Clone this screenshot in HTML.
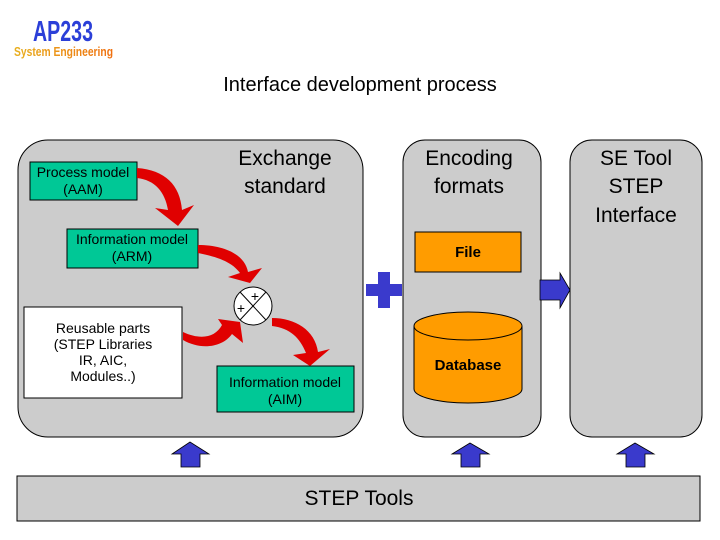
<!DOCTYPE html>
<html><head><style>
body{margin:0;background:#fff;}
svg{display:block;font-family:"Liberation Sans",sans-serif;}
</style></head><body>
<svg width="720" height="540" viewBox="0 0 720 540" xmlns="http://www.w3.org/2000/svg">
<defs>
<linearGradient id="lg" x1="0" y1="0" x2="1" y2="0"><stop offset="0" stop-color="#e8b020"/><stop offset="1" stop-color="#f07010"/></linearGradient>
</defs>
<text x="33" y="41" font-size="29" font-weight="bold" fill="#2b3fd8" textLength="60" lengthAdjust="spacingAndGlyphs">AP233</text>
<text x="14" y="56" font-size="13" font-weight="bold" fill="url(#lg)" textLength="99" lengthAdjust="spacingAndGlyphs">System Engineering</text>
<text x="360" y="91" font-size="20" text-anchor="middle">Interface development process</text>
<rect x="18" y="140" width="345" height="297" rx="30" fill="#cccccc" stroke="#000"/>
<rect x="403" y="140" width="138" height="297" rx="22" fill="#cccccc" stroke="#000"/>
<rect x="570" y="140" width="132" height="297" rx="22" fill="#cccccc" stroke="#000"/>
<rect x="17" y="476" width="683" height="45" fill="#cccccc" stroke="#000"/>
<text x="359" y="505" font-size="21" text-anchor="middle">STEP Tools</text>
<text x="285" y="165" font-size="21" text-anchor="middle">Exchange</text>
<text x="285" y="193" font-size="21" text-anchor="middle">standard</text>
<text x="469" y="165" font-size="21" text-anchor="middle">Encoding</text>
<text x="469" y="193" font-size="21" text-anchor="middle">formats</text>
<text x="636" y="165" font-size="21" text-anchor="middle">SE Tool</text>
<text x="636" y="193" font-size="21" text-anchor="middle">STEP</text>
<text x="636" y="222" font-size="21" text-anchor="middle">Interface</text>
<rect x="30" y="162" width="107" height="38" fill="#00c896" stroke="#000"/>
<text x="83" y="177" font-size="14" text-anchor="middle">Process model</text>
<text x="83" y="194" font-size="14" text-anchor="middle">(AAM)</text>
<rect x="67" y="229" width="131" height="39" fill="#00c896" stroke="#000"/>
<text x="132" y="244" font-size="14" text-anchor="middle">Information model</text>
<text x="132" y="261" font-size="14" text-anchor="middle">(ARM)</text>
<rect x="24" y="307" width="158" height="91" fill="#fff" stroke="#000"/>
<text x="103" y="333" font-size="14" text-anchor="middle">Reusable parts</text>
<text x="103" y="349" font-size="14" text-anchor="middle">(STEP Libraries</text>
<text x="103" y="365" font-size="14" text-anchor="middle">IR, AIC,</text>
<text x="103" y="381" font-size="14" text-anchor="middle">Modules..)</text>
<rect x="217" y="366" width="137" height="46" fill="#00c896" stroke="#000"/>
<text x="285" y="387" font-size="14" text-anchor="middle">Information model</text>
<text x="285" y="404" font-size="14" text-anchor="middle">(AIM)</text>
<rect x="415" y="232" width="106" height="40" fill="#ff9c00" stroke="#000"/>
<text x="468" y="257" font-size="15" font-weight="bold" text-anchor="middle">File</text>
<path d="M414,326 L414,389 A54,14 0 0 0 522,389 L522,326" fill="#ff9c00" stroke="#000"/>
<ellipse cx="468" cy="326" rx="54" ry="14" fill="#ff9c00" stroke="#000"/>
<text x="468" y="370" font-size="15" font-weight="bold" text-anchor="middle">Database</text>
<g fill="#e00000">
<path d="M137,168 C165,170 180,185 182,210 L194,205 L178,226 L155,208 L168,210 C165,192 155,180 137,178 Z"/>
<path d="M198,245 C225,245 245,255 248,272 L262,268 L250,283 L228,277 L240,273 C232,262 218,257 198,253 Z"/>
<path d="M183,332 C200,340 215,338 222,325 L218,319 L240,322 L243,343 L232,334 C222,348 200,350 183,340 Z"/>
<path d="M272,318 C295,318 315,330 318,352 L330,349 L310,366 L293,355 L306,353 C300,338 290,328 272,326 Z"/>
</g>
<circle cx="253" cy="306" r="19" fill="#fff" stroke="#000"/>
<line x1="240" y1="292" x2="266" y2="320" stroke="#000"/>
<line x1="266" y1="292" x2="240" y2="320" stroke="#000"/>
<text x="255" y="301" font-size="14" text-anchor="middle">+</text>
<text x="241" y="313" font-size="14" text-anchor="middle">+</text>
<path d="M378,272 H390 V284 H402 V296 H390 V308 H378 V296 H366 V284 H378 Z" fill="#3a3acc"/>
<path d="M540,280 H560 V273 L570,290 L560,308 V300 H540 Z" fill="#3a3acc" stroke="#000" stroke-width="0.8"/>
<g fill="#3a3acc" stroke="#000" stroke-width="0.8">
<path d="M181,467 V454 H172 L190,442 L209,454 H200 V467 Z"/>
<path d="M461,467 V454 H452 L470,443 L489,454 H480 V467 Z"/>
<path d="M626,467 V454 H617 L635,443 L654,454 H645 V467 Z"/>
</g>
</svg>
</body></html>
